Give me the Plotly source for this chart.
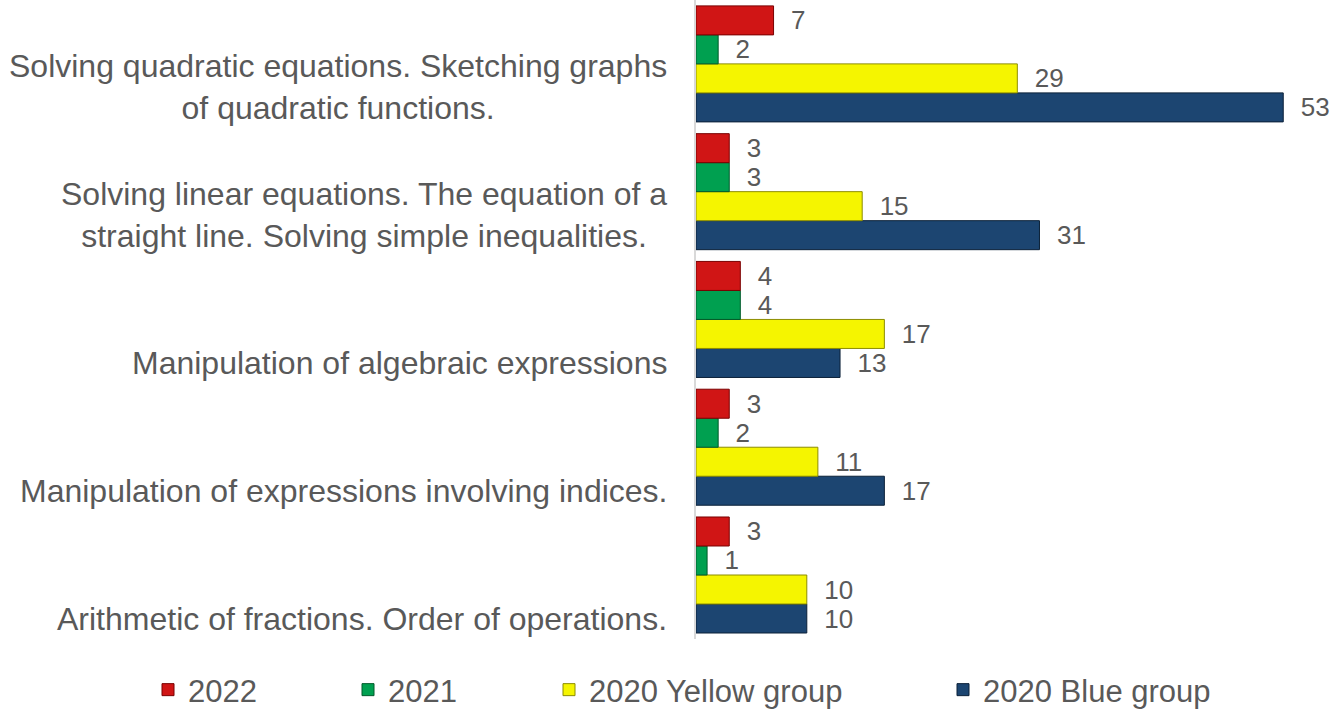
import plotly.graph_objects as go

categories = [
    "Arithmetic of fractions. Order of operations.",
    "Manipulation of expressions involving indices.",
    "Manipulation of algebraic expressions",
    "Solving linear equations. The equation of a<br>straight line. Solving simple inequalities.",
    "Solving quadratic equations. Sketching graphs<br>of quadratic functions.",
]
values_2022 = [3, 3, 4, 3, 7]
values_2021 = [1, 2, 4, 3, 2]
values_2020_yellow = [10, 11, 17, 15, 29]
values_2020_blue = [10, 17, 13, 31, 53]

series = [
    # (name, values, fill, outline, legend id, legend left px)
    ("2020 Blue group", values_2020_blue, "#1C4571", "#0B2038", "legend4", 943),
    ("2020 Yellow group", values_2020_yellow, "#F5F500", "#8C8C00", "legend3", 549),
    ("2021", values_2021, "#00A050", "#005A2A", "legend2", 348),
    ("2022", values_2022, "#D01515", "#7A0000", "legend", 148),
]

TEXT = "#595959"
FONT = "Liberation Sans, Arial, sans-serif"
L, R = 696, 20
PLOT_W = 1336 - L - R
PX_PER_UNIT = 11.08

fig = go.Figure()
layout_legends = {}
for name, vals, fill, outline, leg, left_px in series:
    fig.add_trace(go.Bar(
        y=categories, x=vals, name=name, orientation="h",
        marker=dict(color=fill, line=dict(color=outline, width=1)),
        text=vals, texttemplate="\u00a0\u00a0%{x}", textposition="outside",
        textfont=dict(family=FONT, size=26, color=TEXT),
        constraintext="none", cliponaxis=False, legend=leg,
        hoverinfo="skip",
    ))
    layout_legends[leg] = dict(
        x=(left_px - L) / PLOT_W, xanchor="left", xref="paper",
        y=1 - 690 / 714, yanchor="middle", yref="container",
        orientation="h", bgcolor="rgba(0,0,0,0)",
        font=dict(family=FONT, size=31, color=TEXT),
    )

annotations = []
for cat in categories:
    annotations.append(dict(
        x=0, xref="paper", xanchor="right", xshift=-27,
        y=cat, yref="y", yanchor="bottom", yshift=-64,
        text=cat, showarrow=False, align="center",
        font=dict(family=FONT, size=32, color=TEXT),
    ))

fig.update_layout(
    width=1336, height=714,
    margin=dict(l=L, r=R, t=0, b=75, autoexpand=False),
    paper_bgcolor="white", plot_bgcolor="white",
    barmode="group", bargap=0.092, bargroupgap=0,
    showlegend=True,
    annotations=annotations,
    xaxis=dict(range=[0, PLOT_W / PX_PER_UNIT], visible=False, showgrid=False, zeroline=False),
    yaxis=dict(showticklabels=False, ticks="", showgrid=False, zeroline=False,
               showline=True, linecolor="#D9D9D9", linewidth=2,
               categoryorder="array", categoryarray=categories),
    **layout_legends,
)

fig.write_html(
    "out.html",
    config={"displayModeBar": False},
    post_script="document.body.style.margin='0';document.body.style.overflow='hidden';",
)
